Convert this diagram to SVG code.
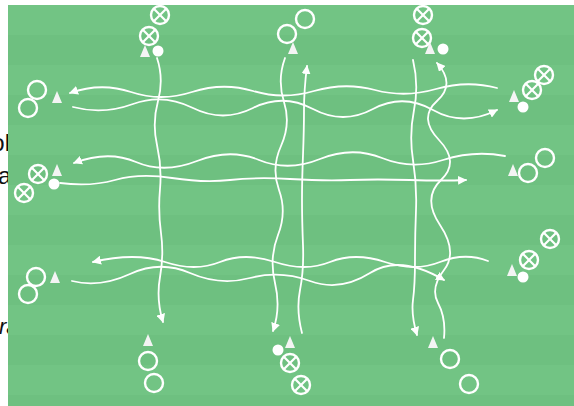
<svg xmlns="http://www.w3.org/2000/svg" width="574" height="406" viewBox="0 0 574 406">
<style>
.txt{font-family:"Liberation Sans",Arial,sans-serif;fill:#111;}
.ring{fill:none;stroke:#fff;stroke-width:2.4;}
.x{stroke:#fff;stroke-width:2.2;}
.cone{fill:#f4f4f4;}
.ball{fill:#fff;}
.run{fill:none;stroke:#fff;stroke-width:1.8;stroke-linecap:round;marker-end:url(#ah);}
</style>
<defs>
<marker id="ah" markerUnits="userSpaceOnUse" markerWidth="11" markerHeight="9" refX="8" refY="4.5" orient="auto">
<path d="M0,0 L9,4.5 L0,9 Z" fill="#fff"/>
</marker>
<g id="xs"><circle class="ring" r="9"/><line class="x" x1="-6.2" y1="-6.2" x2="6.2" y2="6.2"/><line class="x" x1="-6.2" y1="6.2" x2="6.2" y2="-6.2"/></g>
<circle id="os" class="ring" r="9"/>
<polygon id="cn" class="cone" points="-5,6 5,6 0,-6"/>
<circle id="bl" class="ball" r="5.5"/>
</defs>
<rect width="574" height="406" fill="#fff"/>
<text class="txt" x="10" y="151" font-size="24" text-anchor="end">ol</text>
<text class="txt" x="-2" y="184" font-size="24">a</text>
<text class="txt" x="-1" y="334" font-size="22" font-style="italic">ra</text>
<g id="field">
<rect x="8" y="5" width="566" height="401" fill="#6ec080"/>
<rect x="8" y="5" width="566" height="30" fill="#72c484"/>
<rect x="8" y="65" width="566" height="30" fill="#72c484"/>
<rect x="8" y="125" width="566" height="30" fill="#72c484"/>
<rect x="8" y="185" width="566" height="30" fill="#72c484"/>
<rect x="8" y="245" width="566" height="30" fill="#72c484"/>
<rect x="8" y="305" width="566" height="30" fill="#72c484"/>
<rect x="8" y="365" width="566" height="30" fill="#72c484"/>
</g>
<g id="connectors">
<path class="run" d="M497,88 Q467,80 436,89 T375,90 T314,91 T253,91 T192,92 T131,92 T70,93"/>
<path class="run" d="M73,107 Q103,115 133,104 T193,108 T253,108 T313,109 T373,109 T433,110 T497,110"/>
<path class="run" d="M505,156 Q474,150 443,160 T382,158 T320,159 T259,160 T197,161 T136,162 T74,163"/>
<path class="run" d="M60,183 Q90,187 115,180 T172,178 T230,180 T290,179 T350,180 T410,180 T466,180"/>
<path class="run" d="M488,261 Q465,252 440,262 T385,262 T330,262 T275,262 T220,262 T165,262 T93,262"/>
<path class="run" d="M72,281 Q100,288 130,274 T190,273 T250,278 T310,281 T370,273 T444,280"/>
<path class="run" d="M157,58 Q164,79 158,101 T157,145 T160,189 T161,233 T160,277 T163,322"/>
<path class="run" d="M285,58 Q277,80 284,102 T281,146 T279,190 T278,235 T275,283 T273,331"/>
<path class="run" d="M302,333 Q296,310 300,290 T303,245 T302,200 T303,155 T304,110 T307,66"/>
<path class="run" d="M413,60 Q419,85 414,110 T413,160 T416,210 T415,260 T413,300 T417,335"/>
<path class="run" d="M444,338 Q446,318 438,303 T444,270 T440,225 T441,180 T439,140 T437,101 T437,63"/>
</g>
<g id="team-top-left"><use href="#xs" x="160" y="15"/><use href="#xs" x="149" y="36"/><use href="#cn" x="145" y="51"/><use href="#bl" x="158" y="51"/></g>
<g id="team-top-center"><use href="#os" x="305" y="19"/><use href="#os" x="287" y="34"/><use href="#cn" x="293" y="48"/></g>
<g id="team-top-right"><use href="#xs" x="423" y="15"/><use href="#xs" x="422" y="38"/><use href="#cn" x="430" y="48"/><use href="#bl" x="443" y="49"/></g>
<g id="team-left-top"><use href="#os" x="37" y="90"/><use href="#os" x="28" y="108"/><use href="#cn" x="57" y="97"/></g>
<g id="team-left-mid"><use href="#xs" x="38" y="174"/><use href="#xs" x="24" y="193"/><use href="#cn" x="57" y="170"/><use href="#bl" x="54" y="184"/></g>
<g id="team-left-bottom"><use href="#os" x="36" y="277"/><use href="#os" x="28" y="294"/><use href="#cn" x="55" y="277"/></g>
<g id="team-right-top"><use href="#xs" x="544" y="75"/><use href="#xs" x="532" y="90"/><use href="#cn" x="514" y="96"/><use href="#bl" x="523" y="107"/></g>
<g id="team-right-mid"><use href="#os" x="545" y="158"/><use href="#os" x="528" y="173"/><use href="#cn" x="513" y="170"/></g>
<g id="team-right-bottom"><use href="#xs" x="550" y="239"/><use href="#xs" x="529" y="260"/><use href="#cn" x="512" y="270"/><use href="#bl" x="523" y="277"/></g>
<g id="team-bottom-left"><use href="#cn" x="148" y="340"/><use href="#os" x="148" y="361"/><use href="#os" x="154" y="383"/></g>
<g id="team-bottom-center"><use href="#bl" x="278" y="350"/><use href="#cn" x="290" y="342"/><use href="#xs" x="290" y="363"/><use href="#xs" x="301" y="385"/></g>
<g id="team-bottom-right"><use href="#cn" x="433" y="342"/><use href="#os" x="450" y="359"/><use href="#os" x="469" y="384"/></g>
</svg>
